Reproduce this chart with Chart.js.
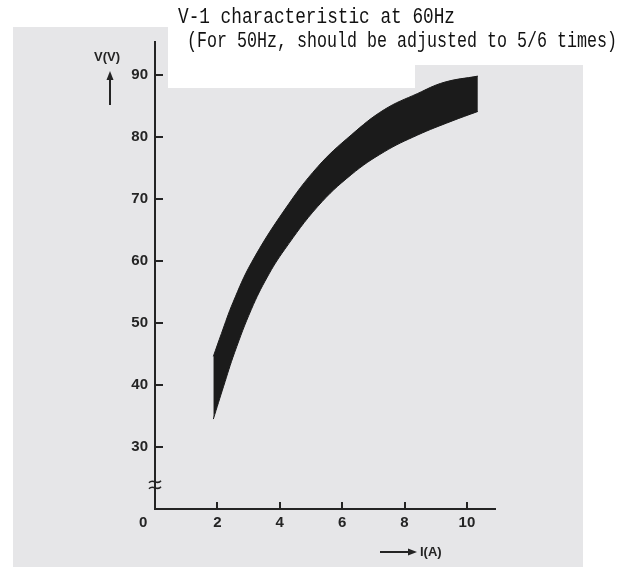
<!DOCTYPE html>
<html>
<head>
<meta charset="utf-8">
<script src="https://cdn.jsdelivr.net/npm/chart.js@4"></script>
<style>
  html, body { margin: 0; padding: 0; background: #fff; }
  canvas { display: block; }
</style>
</head>
<body>
<canvas id="vChart" width="635" height="567"></canvas>
<script>
// band of the V-I curve at 60Hz
const upperI = [1.87, 2.13, 2.5, 3.09, 4.15, 5.22, 6.29, 7.35, 8.42, 9.27, 10.35];
const upperV = [44.6, 48.3, 53.3, 59.7, 68.2, 75.2, 80.3, 84.4, 87.0, 88.8, 89.8];
const lowerI = [1.87, 2.2, 2.55, 3.09, 3.6, 4.15, 5.22, 6.29, 7.35, 8.42, 9.49, 10.35];
const lowerV = [34.5, 39.8, 45.2, 52.2, 57.4, 61.8, 68.8, 73.9, 77.6, 80.3, 82.5, 84.1];

const iTicks = [0, 2, 4, 6, 8, 10];
const vTicks = [20, 30, 40, 50, 60, 70, 80, 90]; // 20 is where the broken axis starts
const titleLines = ["V-1 characteristic at 60Hz", "(For 50Hz, should be adjusted to 5/6 times)"];

const ORIGIN_LABEL_AT = -0.38; // the shared "0" sits a little left of the corner
const INK = '#242424';

const paperPlugin = {
    id: 'paper',
    beforeDraw(chart) {
        const ctx = chart.ctx;
        ctx.save();
        ctx.fillStyle = '#fff';
        ctx.fillRect(0, 0, chart.width, chart.height);
        // scanned page
        ctx.fillStyle = '#e6e6e8';
        ctx.fillRect(13, 27, 570, 540);
        // pasted white label patch
        ctx.fillStyle = '#fff';
        ctx.fillRect(168, 27, 415, 38);
        ctx.fillRect(168, 65, 247, 23);
        ctx.restore();
    },
    afterDraw(chart) {
        const ctx = chart.ctx;
        const yScale = chart.scales.y;
        ctx.save();

        // title, narrow gothic look
        ctx.fillStyle = '#111';
        ctx.font = '22px "Liberation Mono"';
        ctx.textAlign = 'left';
        ctx.textBaseline = 'alphabetic';
        ctx.fillText(titleLines[0], 178, 23, 277);
        ctx.fillText(titleLines[1], 187, 47, 430);

        // axis names with arrows
        ctx.fillStyle = INK;
        ctx.strokeStyle = INK;
        ctx.font = 'bold 13px "Liberation Sans"';
        ctx.textAlign = 'center';
        ctx.textBaseline = 'middle';
        ctx.fillText('V(V)', 107, 57);
        ctx.lineWidth = 2;
        ctx.beginPath();
        ctx.moveTo(110, 105);
        ctx.lineTo(110, 78);
        ctx.stroke();
        ctx.beginPath();
        ctx.moveTo(110, 71);
        ctx.lineTo(106.5, 80);
        ctx.lineTo(113.5, 80);
        ctx.closePath();
        ctx.fill();

        ctx.textAlign = 'left';
        ctx.fillText('I(A)', 420, 552);
        ctx.beginPath();
        ctx.moveTo(380, 552);
        ctx.lineTo(410, 552);
        ctx.stroke();
        ctx.beginPath();
        ctx.moveTo(417, 552);
        ctx.lineTo(408, 548.5);
        ctx.lineTo(408, 555.5);
        ctx.closePath();
        ctx.fill();

        // axis break mark
        const yb = yScale.getPixelForValue(23.9);
        const xb = yScale.right;
        ctx.lineWidth = 1.5;
        [-3, 3].forEach(d => {
            ctx.beginPath();
            ctx.moveTo(xb - 6, yb + d + 1);
            ctx.bezierCurveTo(xb - 2, yb + d - 4, xb + 2, yb + d + 4, xb + 6, yb + d - 1);
            ctx.stroke();
        });
        ctx.restore();
    }
};

const bandColor = '#1b1b1b';
const tickFont = { family: 'Liberation Sans', size: 15, weight: 'bold' };
const hidden = 'rgba(0,0,0,0)';

new Chart(document.getElementById('vChart'), {
    type: 'line',
    data: {
        datasets: [{
            label: 'upper',
            data: upperI.map((x, k) => ({ x: x, y: upperV[k] })),
            borderColor: bandColor,
            backgroundColor: bandColor,
            borderWidth: 1,
            pointRadius: 0,
            tension: 0.4,
            fill: '+1',
        }, {
            label: 'lower',
            data: lowerI.map((x, k) => ({ x: x, y: lowerV[k] })),
            borderColor: bandColor,
            backgroundColor: bandColor,
            borderWidth: 1,
            pointRadius: 0,
            tension: 0.4,
            fill: false,
        }],
    },
    options: {
        responsive: false,
        devicePixelRatio: 1,
        animation: false,
        layout: { padding: { top: 42, right: 140, left: 0, bottom: 0 } },
        plugins: {
            legend: { display: false },
            title: { display: false },
            tooltip: { enabled: false },
        },
        scales: {
            x: {
                type: 'linear',
                min: 0,
                max: 10.9,
                afterBuildTicks: s => { s.ticks = iTicks.map(v => ({ value: v === 0 ? ORIGIN_LABEL_AT : v })); },
                afterFit: s => { s.height = 58; },
                border: { display: true, color: INK, width: 2 },
                grid: {
                    drawOnChartArea: false,
                    drawTicks: true,
                    tickLength: -7,
                    lineWidth: 2,
                    color: c => (c.tick && c.tick.value < 0) ? hidden : INK,
                },
                ticks: {
                    autoSkip: false,
                    maxRotation: 0,
                    padding: 12,
                    color: INK,
                    font: tickFont,
                    callback: v => v < 0 ? '0' : String(v),
                },
            },
            y: {
                type: 'linear',
                min: 20,
                max: 95.3,
                afterBuildTicks: s => { s.ticks = vTicks.map(v => ({ value: v })); },
                afterFit: s => { s.width = 155; },
                border: { display: true, color: INK, width: 2 },
                grid: {
                    drawOnChartArea: false,
                    drawTicks: true,
                    tickLength: -8,
                    lineWidth: 2,
                    color: c => (c.tick && c.tick.value === 20) ? hidden : INK,
                },
                ticks: {
                    autoSkip: false,
                    padding: 15,
                    color: INK,
                    font: tickFont,
                    callback: v => v === 20 ? '' : String(v),
                },
            },
        },
    },
    plugins: [paperPlugin],
});
</script>
</body>
</html>
